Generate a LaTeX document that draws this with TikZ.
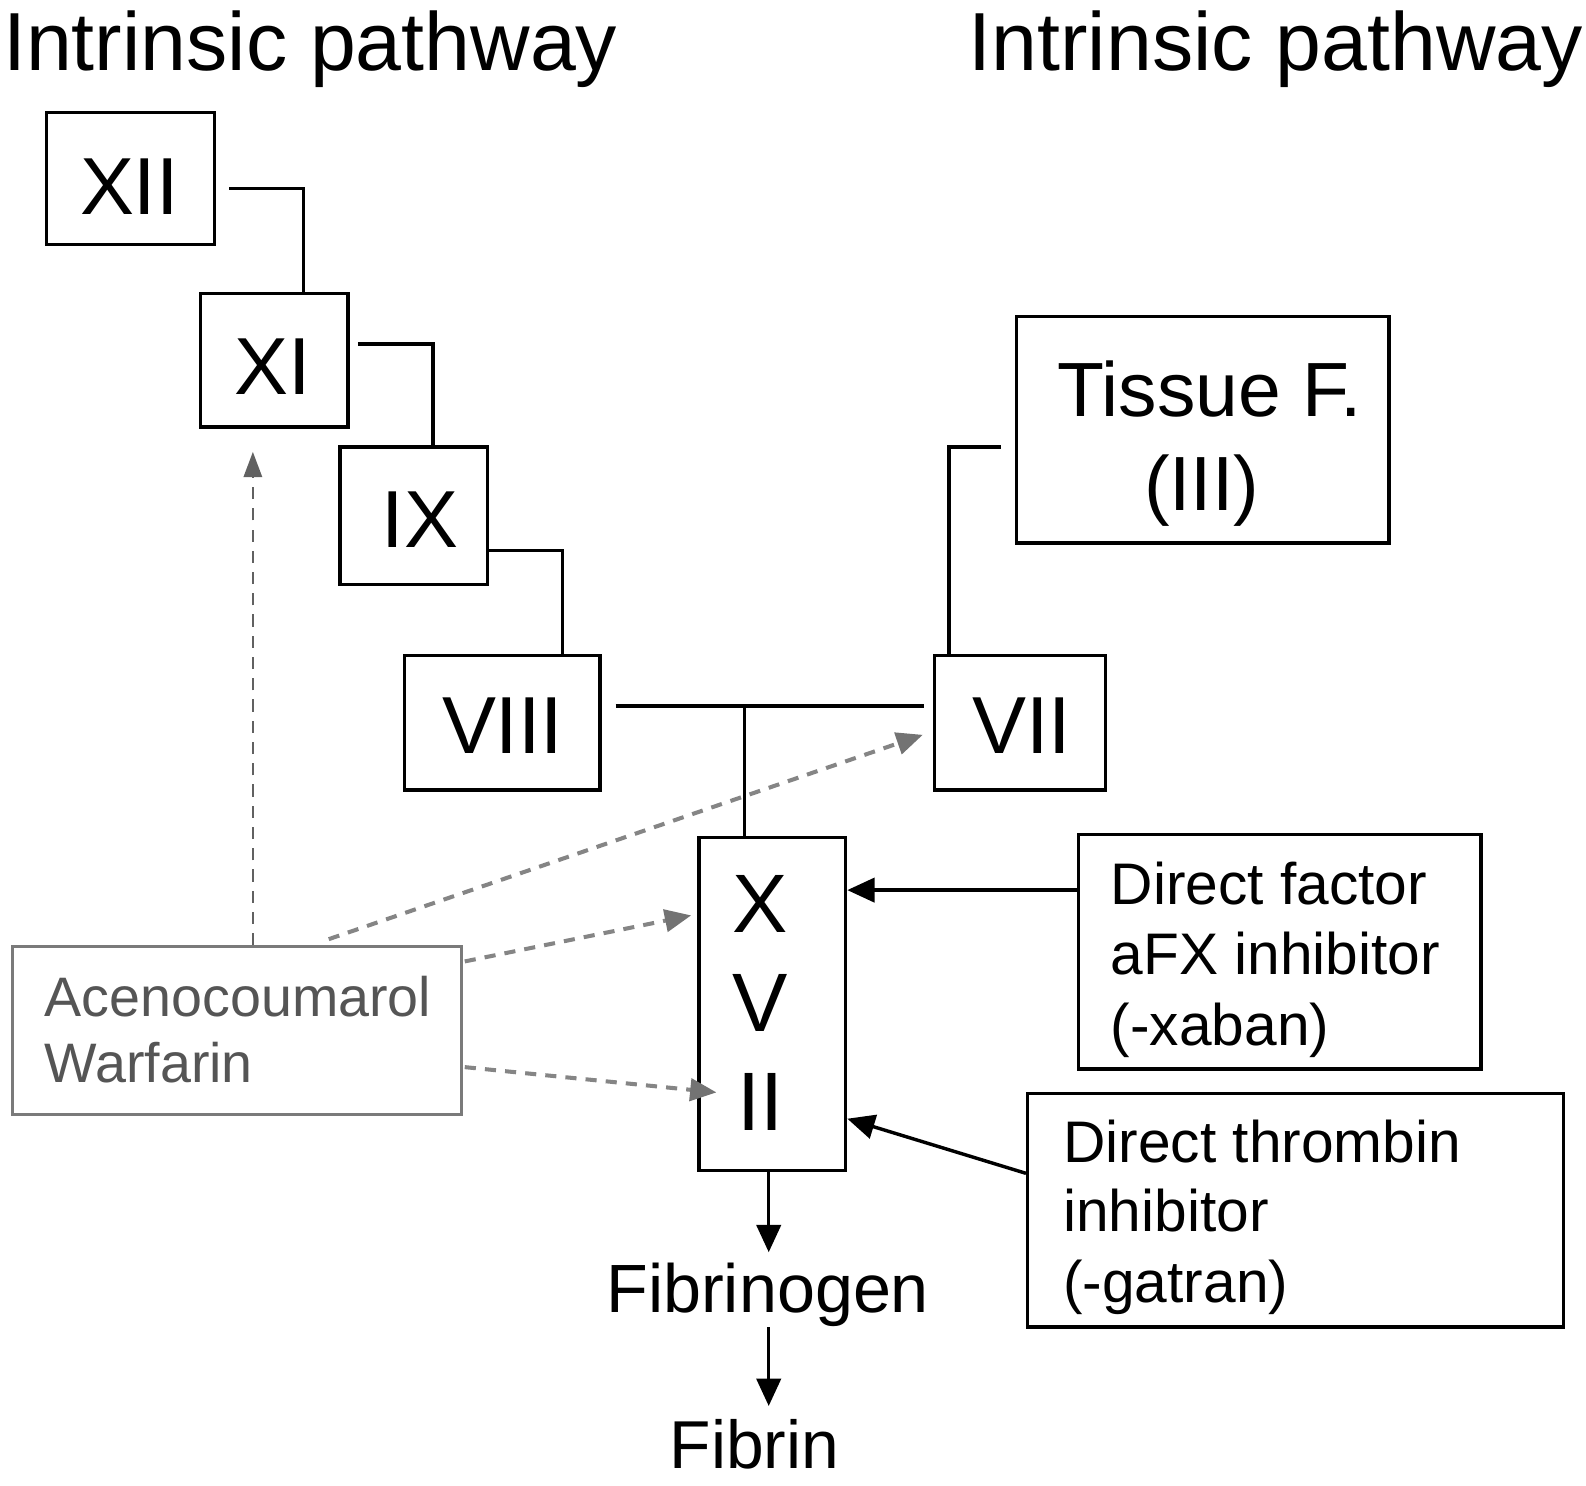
\documentclass[tikz,border=0pt]{standalone}
\usepackage{fontspec}
\setmainfont{Liberation Sans}
\usetikzlibrary{arrows.meta,calc}
\newcommand\fsz[1]{\fontsize{#1}{#1}\selectfont}
\definecolor{dashgray}{HTML}{858585}
\definecolor{headgray}{HTML}{737373}
\definecolor{boxgray}{HTML}{7A7A7A}
\definecolor{txtgray}{HTML}{555555}
\begin{document}
\begin{tikzpicture}[x=1pt,y=-1pt,
  fbox/.style={draw=black, line width=3.4pt, inner sep=0pt, fill=none},
  lbl/.style={anchor=base, inner sep=0pt, text=black},
  lblw/.style={anchor=base west, inner sep=0pt, text=black},
  conn/.style={line width=3.4pt, black},
  sarrow/.style={line width=3.4pt, black, -{Triangle[length=27pt,width=24pt]}},
  darrow/.style={line width=4pt, dashgray, dash pattern=on 11pt off 9pt, -{Triangle[length=26pt,width=22pt,fill=headgray,color=headgray]}},
  varrow/.style={line width=2.6pt, black!62, dash pattern=on 12pt off 9pt, -{Triangle[length=25pt,width=18pt]}}
]
\useasboundingbox (0,0) rectangle (1568,1469);

% titles
\node[anchor=base west, inner sep=0pt, font=\fsz{81.5}] (t1) at (3,70) {Intrinsic pathway};
\node[anchor=base east, inner sep=0pt, font=\fsz{81.5}] (t2) at (1565,70) {Intrinsic pathway};

% boxes
\node[fbox, minimum width=166pt, minimum height=131pt] (XII) at (129,176.5) {};
\node[fbox, minimum width=146pt, minimum height=132pt] (XI) at (271,356) {};
\node[fbox, minimum width=146pt, minimum height=136pt] (IX) at (409,510) {};
\node[fbox, minimum width=193pt, minimum height=133pt] (VIII) at (496.5,714.5) {};
\node[fbox, minimum width=169pt, minimum height=133pt] (VII) at (1008.5,714.5) {};
\node[fbox, minimum width=368pt, minimum height=224pt] (TF) at (1189,425) {};
\node[fbox, minimum width=145pt, minimum height=329pt] (XVII) at (763.5,992.5) {};
\node[fbox, minimum width=398pt, minimum height=232pt] (DF) at (1265,941) {};
\node[fbox, minimum width=530pt, minimum height=231pt] (DT) at (1281,1196.5) {};
\node[fbox, draw=boxgray, line width=3pt, minimum width=444pt, minimum height=166pt] (AC) at (234,1019) {};

% box texts
\node[lbl, font=\fsz{80}] (tXII) at (128,212) {XII};
\node[lbl, font=\fsz{80}] (tXI) at (270,390) {XI};
\node[lbl, font=\fsz{80}] (tIX) at (415,541) {IX};
\node[lbl, font=\fsz{80}] (tVIII) at (497,745) {VIII};
\node[lbl, font=\fsz{80}] (tVII) at (1010,745) {VII};
\node[lbl, font=\fsz{76}] (tTF1) at (1196,412) {Tissue F.};
\node[lbl, font=\fsz{76}] (tTF2) at (1188,505) {(III)};
\node[lbl, font=\fsz{82}] (tX) at (752,922) {X};
\node[lbl, font=\fsz{82}] (tV) at (752,1020) {V};
\node[lbl, font=\fsz{82}] (tII) at (752,1118) {II};
\node[lblw, font=\fsz{58}] (df1) at (1098,894) {Direct factor};
\node[lblw, font=\fsz{58}] (df2) at (1098,963) {aFX inhibitor};
\node[lblw, font=\fsz{58}] (df3) at (1098,1034) {(-xaban)};
\node[lblw, font=\fsz{58}] (dt1) at (1051,1149) {Direct thrombin};
\node[lblw, font=\fsz{58}] (dt2) at (1051,1218) {inhibitor};
\node[lblw, font=\fsz{58}] (dt3) at (1051,1288) {(-gatran)};
\node[lblw, font=\fsz{55}, text=txtgray] (ac1) at (44,1005) {Acenocoumarol};
\node[lblw, font=\fsz{55}, text=txtgray] (ac2) at (44,1070) {Warfarin};
\node[lbl, font=\fsz{67.5}] (FG) at (759,1298) {Fibrinogen};
\node[lbl, font=\fsz{67}] (FB) at (746,1452) {Fibrin};

% coordinates
\coordinate (c1) at ($(XII.east)+(13,10)$);
\coordinate (c2) at ($(XI.east)+(8,-16)$);
\coordinate (c3) at ($(IX.east)+(0,34)$);
\coordinate (hL) at ($(VIII.east)+(14,-16.5)$);
\coordinate (hR) at ($(VII.west)+(-9,-16.5)$);
\coordinate (c4) at ($(TF.west)+(-14,17)$);

% solid connectors
\draw[conn] (c1) -| (XI.north -| 300,0);
\draw[conn] (c2) -| (IX.north -| 428,0);
\draw[conn] (c3) -| (VIII.north -| 556,0);
\draw[conn] (hL) -- (hR);
\draw[conn] (hL -| 736,0) -- (XVII.north -| 736,0);
\draw[conn] (c4) -| (VII.north -| 938,0);

% solid arrows
\coordinate (dfA) at (DF.west |- 0,880);
\draw[sarrow] (dfA) -- (XVII.east |- dfA);
\coordinate (dtA) at (DT.west |- 0,1160);
\coordinate (dtB) at (XVII.east |- 0,1106);
\draw[sarrow] (dtA) -- (dtB);
\draw[sarrow] (XVII.south -| 760,0) -- (760,1238);
\coordinate (fgB) at (760,1312);
\coordinate (fbT) at (760,1390);
\draw[sarrow] (fgB) -- (fbT);

% dashed arrows
\coordinate (v0) at (AC.north -| 250,0);
\coordinate (v1) at ($(XI.south -| 250,0)+(0,23)$);
\draw[varrow] (v0) -- (v1);
\coordinate (d0) at ($(AC.north -| 325,0)+(0,-6)$);
\coordinate (d1) at ($(VII.west)+(-10,12)$);
\draw[darrow] (d0) -- (d1);
\coordinate (e0) at ($(AC.north east)+(2,16)$);
\coordinate (e1) at ($(XVII.west |- 0,905)+(-6,0)$);
\draw[darrow] (e0) -- (e1);
\coordinate (f0) at ($(AC.east)+(2,36)$);
\coordinate (f1) at ($(XVII.west |- 0,1080)+(19,0)$);
\draw[darrow] (f0) -- (f1);
\end{tikzpicture}
\end{document}
